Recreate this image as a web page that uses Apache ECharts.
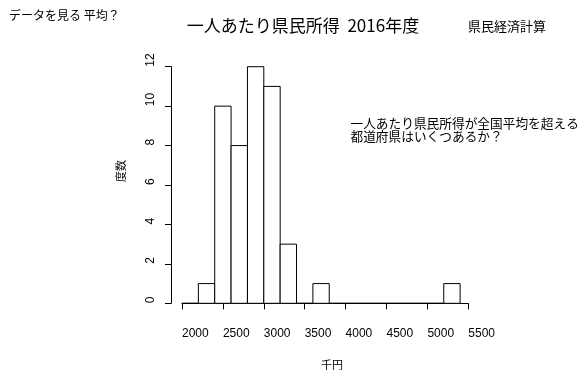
<!DOCTYPE html>
<html>
<head>
<meta charset="utf-8">
<script src="https://cdn.jsdelivr.net/npm/echarts@6/dist/echarts.min.js"></script>
<style>
  html, body { margin: 0; padding: 0; background: #ffffff; }
  #chart { width: 586px; height: 373px; }
</style>
</head>
<body>
<div id="chart"></div>
<script>
// Per-capita prefectural income, FY2016 (thousand yen): histogram with 200-wide bins
const binEdges = [2000, 2200, 2400, 2600, 2800, 3000, 3200, 3400, 3600, 3800,
                  4000, 4200, 4400, 4600, 4800, 5000, 5200, 5400];
const counts = [0, 1, 10, 8, 12, 11, 3, 0, 1, 0, 0, 0, 0, 0, 0, 0, 1];
const xTicks = [2000, 2500, 3000, 3500, 4000, 4500, 5000, 5500];
const yTicks = [0, 2, 4, 6, 8, 10, 12];

const LATIN = '"Liberation Sans", Arial, sans-serif';
const CJK = '"Noto Sans CJK JP", "Liberation Sans", sans-serif';

// one item per bin: [left edge, right edge, count]
const bins = counts.map((c, i) => [binEdges[i], binEdges[i + 1], c]);

const chart = echarts.init(document.getElementById('chart'), null, { renderer: 'canvas' });

chart.setOption({
  animation: false,
  backgroundColor: '#ffffff',
  grid: { left: 182, right: 117.7, top: 66.7, bottom: 69.7, containLabel: false },
  xAxis: {
    type: 'value',
    min: xTicks[0],
    max: xTicks[xTicks.length - 1],
    interval: xTicks[1] - xTicks[0],
    offset: 10,
    axisLine: { show: true, lineStyle: { color: '#000', width: 1 } },
    axisTick: { show: true, length: 6, lineStyle: { color: '#000', width: 1 } },
    splitLine: { show: false },
    axisLabel: {
      color: '#000', fontSize: 12, fontFamily: LATIN,
      align: 'left', margin: 14,
      formatter: v => String(v)
    }
  },
  yAxis: {
    type: 'value',
    min: yTicks[0],
    max: yTicks[yTicks.length - 1],
    interval: yTicks[1] - yTicks[0],
    offset: 11,
    axisLine: { show: true, lineStyle: { color: '#000', width: 1 } },
    axisTick: { show: true, length: 6, lineStyle: { color: '#000', width: 1 } },
    splitLine: { show: false },
    axisLabel: {
      color: '#000', fontSize: 12, fontFamily: LATIN,
      rotate: 90, align: 'left', verticalAlign: 'bottom', margin: 14,
      formatter: v => String(v)
    }
  },
  series: [{
    type: 'custom',
    data: bins,
    encode: { x: [0, 1], y: 2 },
    renderItem: function (params, api) {
      const topLeft = api.coord([api.value(0), api.value(2)]);
      const bottomRight = api.coord([api.value(1), 0]);
      return {
        type: 'rect',
        shape: {
          x: topLeft[0],
          y: topLeft[1],
          width: bottomRight[0] - topLeft[0],
          height: bottomRight[1] - topLeft[1]
        },
        style: { fill: '#ffffff', stroke: '#000000', lineWidth: 1 }
      };
    }
  }],
  graphic: [
    {
      type: 'text', left: 9, top: 9,
      style: { text: 'データを見る 平均？', font: '12px ' + CJK, fill: '#000' }
    },
    {
      type: 'text', x: 303, y: 25.5,
      style: {
        text: '一人あたり県民所得  2016年度', font: '17px ' + CJK, fill: '#000',
        align: 'center', verticalAlign: 'middle'
      }
    },
    {
      type: 'text', x: 468, y: 26,
      style: {
        text: '県民経済計算', font: '13px ' + CJK, fill: '#000',
        align: 'left', verticalAlign: 'middle'
      }
    },
    {
      type: 'text', x: 350.5, y: 116.5,
      style: {
        text: '一人あたり県民所得が全国平均を超える\n都道府県はいくつあるか？',
        font: '12.7px ' + CJK, lineHeight: 13, fill: '#000',
        align: 'left', verticalAlign: 'top'
      }
    },
    {
      type: 'text', x: 121, y: 171, rotation: Math.PI / 2,
      style: {
        text: '度数', font: '11px ' + CJK, fill: '#000',
        align: 'center', verticalAlign: 'middle'
      }
    },
    {
      type: 'text', x: 332, y: 365,
      style: {
        text: '千円', font: '11px ' + CJK, fill: '#000',
        align: 'center', verticalAlign: 'middle'
      }
    }
  ]
});
</script>
</body>
</html>
